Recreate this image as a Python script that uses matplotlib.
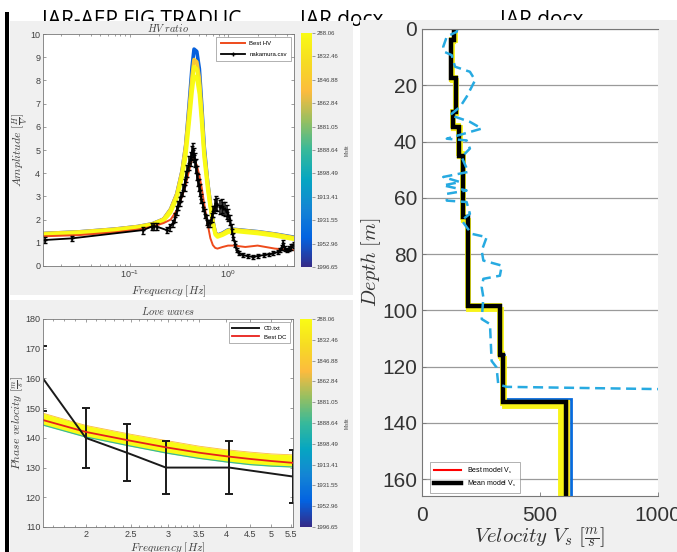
import matplotlib.pyplot as plt
from matplotlib.colors import LinearSegmentedColormap, Normalize
from matplotlib.cm import ScalarMappable
from matplotlib.patches import Rectangle
from matplotlib.ticker import NullFormatter

plt.rcParams['font.family'] = ['Liberation Sans', 'DejaVu Sans']
plt.rcParams['mathtext.fontset'] = 'cm'

# --------------------------- HV ratio
hv_freq = [0.013, 0.03, 0.07, 0.12, 0.17, 0.22, 0.26, 0.30, 0.34, 0.37, 0.40, 0.43, 0.45, 0.48, 0.51,
           0.54, 0.57, 0.62, 0.66, 0.70, 0.74, 0.78, 0.88, 1.0, 1.15, 1.5, 2.0, 3.0, 4.7]
hv_blue = [1.40, 1.47, 1.59, 1.70, 1.82, 2.02, 2.45, 3.1, 4.1, 5.2, 6.9, 8.6, 9.35, 9.25, 8.5,
           6.9, 5.2, 3.6, 2.7, 1.95, 1.45, 1.33, 1.42, 1.56, 1.58, 1.53, 1.48, 1.38, 1.24]
hv_orange = [1.40, 1.47, 1.59, 1.70, 1.82, 2.02, 2.45, 3.1, 4.1, 5.2, 6.7, 8.2, 8.9, 8.8, 8.1,
             6.6, 5.0, 3.6, 2.7, 1.95, 1.45, 1.32, 1.40, 1.54, 1.57, 1.52, 1.47, 1.37, 1.22]
hv_yellow_a = [1.38, 1.45, 1.57, 1.68, 1.80, 2.0, 2.4, 3.0, 4.0, 5.0, 6.4, 7.9, 8.6, 8.5, 7.8,
               6.4, 4.9, 3.5, 2.6, 1.9, 1.4, 1.3, 1.38, 1.52, 1.55, 1.5, 1.45, 1.35, 1.2]
hv_yellow_b = [1.34, 1.41, 1.53, 1.64, 1.76, 1.95, 2.3, 2.9, 3.8, 4.7, 6.1, 7.5, 8.2, 8.1, 7.4,
               6.1, 4.7, 3.3, 2.5, 1.8, 1.35, 1.25, 1.33, 1.45, 1.5, 1.45, 1.4, 1.3, 1.15]
hv_best = [1.28, 1.33, 1.45, 1.57, 1.70, 1.85, 2.0, 2.4, 3.0, 3.5, 4.1, 4.6, 4.6, 4.35, 3.9,
           3.35, 2.7, 1.8, 1.2, 0.9, 0.78, 0.75, 0.82, 0.88, 0.88, 0.82, 0.88, 0.75, 0.68]

nak_freq = [0.0135, 0.0254, 0.137, 0.166, 0.176, 0.187, 0.236, 0.256, 0.275, 0.29,
            0.30, 0.31, 0.32, 0.335, 0.35, 0.36, 0.37, 0.385, 0.40, 0.415,
            0.427, 0.437, 0.447, 0.46, 0.47, 0.478, 0.49, 0.505, 0.518, 0.535,
            0.56, 0.58, 0.606, 0.63, 0.655, 0.68, 0.71, 0.73, 0.75, 0.78,
            0.83, 0.86, 0.89, 0.93, 0.97, 1.01, 1.05, 1.09, 1.13, 1.18,
            1.22, 1.3, 1.43, 1.6, 1.8, 2.0, 2.3, 2.6, 2.9, 3.2,
            3.4, 3.55, 3.66, 3.8, 3.97, 4.2, 4.4, 4.7]
nak_amp = [1.12, 1.19, 1.55, 1.70, 1.72, 1.70, 1.55, 1.68, 1.85, 2.1,
           2.4, 2.6, 2.77, 3.0, 3.28, 3.5, 3.85, 4.1, 4.43, 4.6,
           4.86, 5.0, 4.8, 4.57, 4.3, 4.0, 3.7, 3.5, 3.28, 2.9,
           2.56, 2.25, 1.98, 1.85, 1.84, 2.1, 2.35, 2.6, 2.7, 2.65,
           2.56, 2.6, 2.48, 2.45, 2.34, 2.2, 1.98, 1.6, 1.26, 0.95,
           0.69, 0.55, 0.47, 0.42, 0.4, 0.43, 0.47, 0.5, 0.55, 0.6,
           0.69, 0.8, 0.98, 0.75, 0.69, 0.75, 0.83, 0.9]
nak_err = [0.15, 0.12, 0.15, 0.15, 0.15, 0.15, 0.12, 0.15, 0.15, 0.2,
           0.2, 0.2, 0.2, 0.2, 0.25, 0.25, 0.25, 0.25, 0.3, 0.3,
           0.3, 0.3, 0.3, 0.3, 0.3, 0.3, 0.25, 0.25, 0.25, 0.2,
           0.2, 0.2, 0.2, 0.15, 0.15, 0.2, 0.25, 0.3, 0.3, 0.3,
           0.3, 0.3, 0.3, 0.3, 0.3, 0.25, 0.2, 0.2, 0.15, 0.12,
           0.1, 0.08, 0.08, 0.08, 0.08, 0.08, 0.08, 0.08, 0.08, 0.1,
           0.1, 0.12, 0.15, 0.12, 0.1, 0.1, 0.12, 0.12]

misfit_labels = ['288.06', '1832.46', '1846.88', '1862.84', '1881.05', '1888.64',
                 '1898.49', '1913.41', '1931.55', '1952.96', '1996.65']

# --------------------------- Love waves
dc_freq = [1.62, 2.0, 2.5, 3.0, 3.5, 4.0, 4.5, 5.0, 5.55]
dc_best = [146.0, 142.0, 139.0, 136.7, 135.0, 133.8, 132.9, 132.2, 131.6]
dc_upper = [148.3, 144.2, 141.2, 139.0, 137.2, 136.0, 135.2, 134.6, 134.3]
dc_lower = [144.3, 140.3, 137.2, 134.8, 133.1, 131.9, 131.0, 130.5, 130.2]
cd_freq = [1.62, 2.0, 2.45, 2.97, 4.06, 5.55]
cd_vel = [160, 140, 135, 130, 130, 127]
cd_err = [11, 10, 9.5, 9, 9, 9]

# --------------------------- Vs profiles
mean_edges = [0, 4, 17.5, 29.5, 35, 45, 67, 98.5, 116, 132.5, 166]
mean_vs = [136, 123, 142, 132, 157, 173, 195, 330, 345, 609]
best_vs = [137, 124, 143, 133, 158, 174, 196, 331, 346, 610]
blue_edges = [0, 4, 17, 29, 35, 45, 67, 98, 116, 131.5, 166]
blue_vs = [137, 124, 143, 133, 158, 174, 196, 332, 347, 630]
orange_edges = [0, 4.5, 18, 30, 35.5, 45.5, 68, 99, 116.5, 132.5, 166]
orange_vs = [135, 122, 141, 131, 156, 172, 194, 329, 344, 620]
yellow1_edges = [0, 3.5, 17, 29, 34, 44, 67, 98, 115, 133, 166]
yellow1_vs = [134, 121, 139, 129, 154, 170, 192, 326, 341, 595]
yellow2_edges = [0, 4, 18, 30, 35, 45, 68, 99.5, 117, 134, 166]
yellow2_vs = [138, 125, 143, 133, 159, 175, 197, 334, 348, 585]

ref_depth = [0, 1.0, 2.7, 6.3, 8.0, 9.3, 13.4, 15.2, 18.2, 24.1, 27.7, 30.6, 33.0, 35.4, 37.8, 39.0,
             39.6, 42.5, 45.5, 50.8, 52.6, 54.4, 55.6, 57.4, 58.6, 61.0, 61.5, 65.7, 68.0, 72.8, 74.0,
             78.8, 82.3, 84.1, 87.7, 88.8, 91.8, 95.4, 103.1, 104.9, 118.0, 120.3, 126.3, 127.2, 128.0, 128.3]
ref_vs = [150, 147, 105, 90, 92, 126, 140, 203, 225, 189, 161, 119, 203, 253, 154, 105,
          189, 203, 168, 196, 90, 161, 90, 189, 105, 105, 189, 203, 168, 210, 274,
          253, 260, 338, 330, 260, 253, 260, 253, 288, 295, 316, 323, 359, 1001, 1100]

# parula-like colour scale
parula = LinearSegmentedColormap.from_list('parula', [
    (0.208, 0.166, 0.529), (0.012, 0.388, 0.882), (0.078, 0.522, 0.831),
    (0.024, 0.651, 0.757), (0.216, 0.725, 0.604), (0.590, 0.749, 0.380),
    (0.988, 0.733, 0.243), (0.965, 0.859, 0.137), (0.976, 0.984, 0.081)])

W, H = 677, 552
TXT = '#404040'
SPINE = '#777777'


def px(x0, y0, x1, y1):
    return [x0 / W, 1 - y1 / H, (x1 - x0) / W, (y1 - y0) / H]


fig = plt.figure(figsize=(W / 100, H / 100), dpi=100)

# document background: headers, panels, border
for x, s in [(42, 'IAR-AEP FIG TRADUC'), (300, 'IAR docx'), (500, 'IAR docx')]:
    fig.text(x / W, 1 - 10 / H, s, fontsize=15, va='top', color='black',
             family='Open Sans', zorder=-3)
for x0, y0, x1, y1 in [(10, 21, 353, 295), (10, 300, 353, 552), (360, 20, 677, 552)]:
    b = px(x0, y0, x1, y1)
    fig.add_artist(Rectangle((b[0], b[1]), b[2], b[3], transform=fig.transFigure,
                             facecolor='#f0f0f0', edgecolor='none', zorder=-2))
b = px(5, 12, 9, 552)
fig.add_artist(Rectangle((b[0], b[1]), b[2], b[3], transform=fig.transFigure,
                         facecolor='black', edgecolor='none', zorder=-2))


def style_small(ax):
    for sp in ax.spines.values():
        sp.set_color(SPINE)
        sp.set_linewidth(0.6)
    ax.tick_params(which='both', direction='in', top=True, right=True, colors=SPINE,
                   labelcolor=TXT, labelsize=6.5, width=0.5, pad=2)
    ax.tick_params(which='major', length=2.5)
    ax.tick_params(which='minor', length=1.5)


def colorbar(rect):
    cax = fig.add_axes(px(*rect))
    cb = fig.colorbar(ScalarMappable(norm=Normalize(0, 10), cmap=parula), cax=cax,
                      ticks=list(range(10, -1, -1)))
    cb.set_ticklabels(misfit_labels)
    cb.outline.set_visible(False)
    cax.tick_params(labelsize=4.3, colors=SPINE, labelcolor=TXT, length=2, width=0.5, pad=1.5)
    cb.set_label('Misfit', fontsize=3.5, color=TXT, labelpad=4)


# --------------------------- HV ratio axes
ax1 = fig.add_axes(px(43, 34, 294, 266))
ax1.plot(hv_freq, hv_blue, color=parula(0.12), lw=2.6)
ax1.plot(hv_freq, hv_orange, color=parula(0.8), lw=2.6)
ax1.plot(hv_freq, hv_yellow_a, color=parula(0.97), lw=2.6)
ax1.plot(hv_freq, hv_yellow_b, color=parula(1.0), lw=2.6)
ax1.plot(hv_freq, hv_best, color='#ee4b1c', lw=1.4, label='Best HV')
ax1.errorbar(nak_freq, nak_amp, yerr=nak_err, color='black', lw=1.3, elinewidth=1.1,
             capsize=1.5, marker='+', ms=3, label='nakamura.csv')
ax1.set_xscale('log')
ax1.set_xlim(0.013, 4.7)
ax1.set_ylim(0, 10)
ax1.set_yticks(range(0, 11))
style_small(ax1)
ax1.set_title(r'$HV\ ratio$', fontsize=7.5, color=TXT, pad=0)
ax1.set_xlabel(r'$Frequency\ [Hz]$', fontsize=8, color=TXT, labelpad=2)
ax1.set_ylabel(r'$Amplitude\ [\frac{H}{V}]$', fontsize=8.5, color=TXT)
ax1.yaxis.set_label_coords(-0.05, 0.5)
h, l = ax1.get_legend_handles_labels()
ax1.legend([h[0], h[1][0]], l, loc='upper right', fontsize=4.3, frameon=True,
           fancybox=False, edgecolor=SPINE, handlelength=4, borderpad=0.7,
           labelspacing=0.9).get_frame().set_linewidth(0.5)
colorbar((301, 33, 312, 267))

# --------------------------- Love waves axes
ax2 = fig.add_axes(px(43, 319, 293, 527))
ax2.fill_between(dc_freq, dc_lower, dc_upper, color=parula(1.0), lw=0)
ax2.plot(dc_freq, dc_lower, color=parula(0.5), lw=0.9)
ax2.plot(dc_freq, dc_upper, color=parula(0.75), lw=0.6)
ax2.errorbar(cd_freq, cd_vel, yerr=cd_err, color='#1a1a1a', lw=1.4, capsize=3,
             capthick=1.4, label='CD.txt')
ax2.plot(dc_freq, dc_best, color='#e8201a', lw=1.3, label='Best DC')
ax2.set_xscale('log')
ax2.set_xlim(1.62, 5.56)
ax2.set_ylim(110, 180)
ax2.set_xticks([2, 2.5, 3, 3.5, 4, 4.5, 5, 5.5])
ax2.set_xticklabels(['2', '2.5', '3', '3.5', '4', '4.5', '5', '5.5'])
ax2.set_xticks([1.7, 1.8, 1.9, 2.1, 2.2, 2.3, 2.4, 2.6, 2.7, 2.8, 2.9, 3.1, 3.2, 3.3, 3.4],
               minor=True)
ax2.xaxis.set_minor_formatter(NullFormatter())
style_small(ax2)
ax2.set_title(r'$Love\ waves$', fontsize=7.5, color=TXT, pad=3)
ax2.set_xlabel(r'$Frequency\ [Hz]$', fontsize=8, color=TXT, labelpad=1)
ax2.set_ylabel(r'$Phase\ velocity\ [\frac{m}{s}]$', fontsize=8.5, color=TXT)
ax2.yaxis.set_label_coords(-0.066, 0.5)
h, l = ax2.get_legend_handles_labels()
ax2.legend([h[1][0], h[0]], [l[1], l[0]], loc='upper right', fontsize=4.3,
           fancybox=False, edgecolor=SPINE, handlelength=4.5, borderpad=0.6,
           labelspacing=0.6).get_frame().set_linewidth(0.5)
colorbar((300, 319, 312, 527))

# --------------------------- Vs profile axes
ax3 = fig.add_axes(px(422, 29, 658, 496))
ax3.grid(axis='y', color='#9a9a9a', lw=0.9)
ax3.set_axisbelow(True)
ax3.stairs(blue_vs, blue_edges, orientation='horizontal', baseline=None,
           color=parula(0.15), lw=2)
ax3.stairs(orange_vs, orange_edges, orientation='horizontal', baseline=None,
           color=parula(0.92), lw=3)
ax3.stairs(yellow1_vs, yellow1_edges, orientation='horizontal', baseline=None,
           color=parula(1.0), lw=3.5)
ax3.stairs(yellow2_vs, yellow2_edges, orientation='horizontal', baseline=None,
           color=parula(0.97), lw=3.5)
ax3.plot(ref_vs, ref_depth, color='#27aae1', lw=1.8, dashes=(4, 2.2))
ax3.stairs(best_vs, mean_edges, orientation='horizontal', baseline=None,
           color='red', lw=1.5, label=r'Best model V$_\mathrm{s}$')
ax3.stairs(mean_vs, mean_edges, orientation='horizontal', baseline=None,
           color='black', lw=3.2, label=r'Mean model V$_\mathrm{s}$')
ax3.set_xlim(0, 1000)
ax3.set_ylim(166, 0)
ax3.set_xticks([0, 500, 1000])
ax3.set_yticks(range(0, 161, 20))
for side in ['left', 'bottom', 'top']:
    ax3.spines[side].set_color(SPINE)
    ax3.spines[side].set_linewidth(0.8)
ax3.spines['right'].set_visible(False)
ax3.tick_params(direction='in', length=3, colors=SPINE, labelcolor='#333333',
                labelsize=15, width=0.6)
ax3.tick_params(axis='x', pad=7)
ax3.set_xlabel(r'$Velocity\ V_s\ [\frac{m}{s}]$', fontsize=15, color='#333333', labelpad=0)
ax3.set_ylabel(r'$Depth\ [m]$', fontsize=14.5, color='#333333')
ax3.yaxis.set_label_coords(-0.165, 0.5)
ax3.legend(loc='lower left', fontsize=5, fancybox=False, edgecolor=SPINE,
           handlelength=4, borderpad=0.5, labelspacing=0.4,
           bbox_to_anchor=(0.02, 0.0)).get_frame().set_linewidth(0.5)

fig.savefig('out.png', dpi=100)
